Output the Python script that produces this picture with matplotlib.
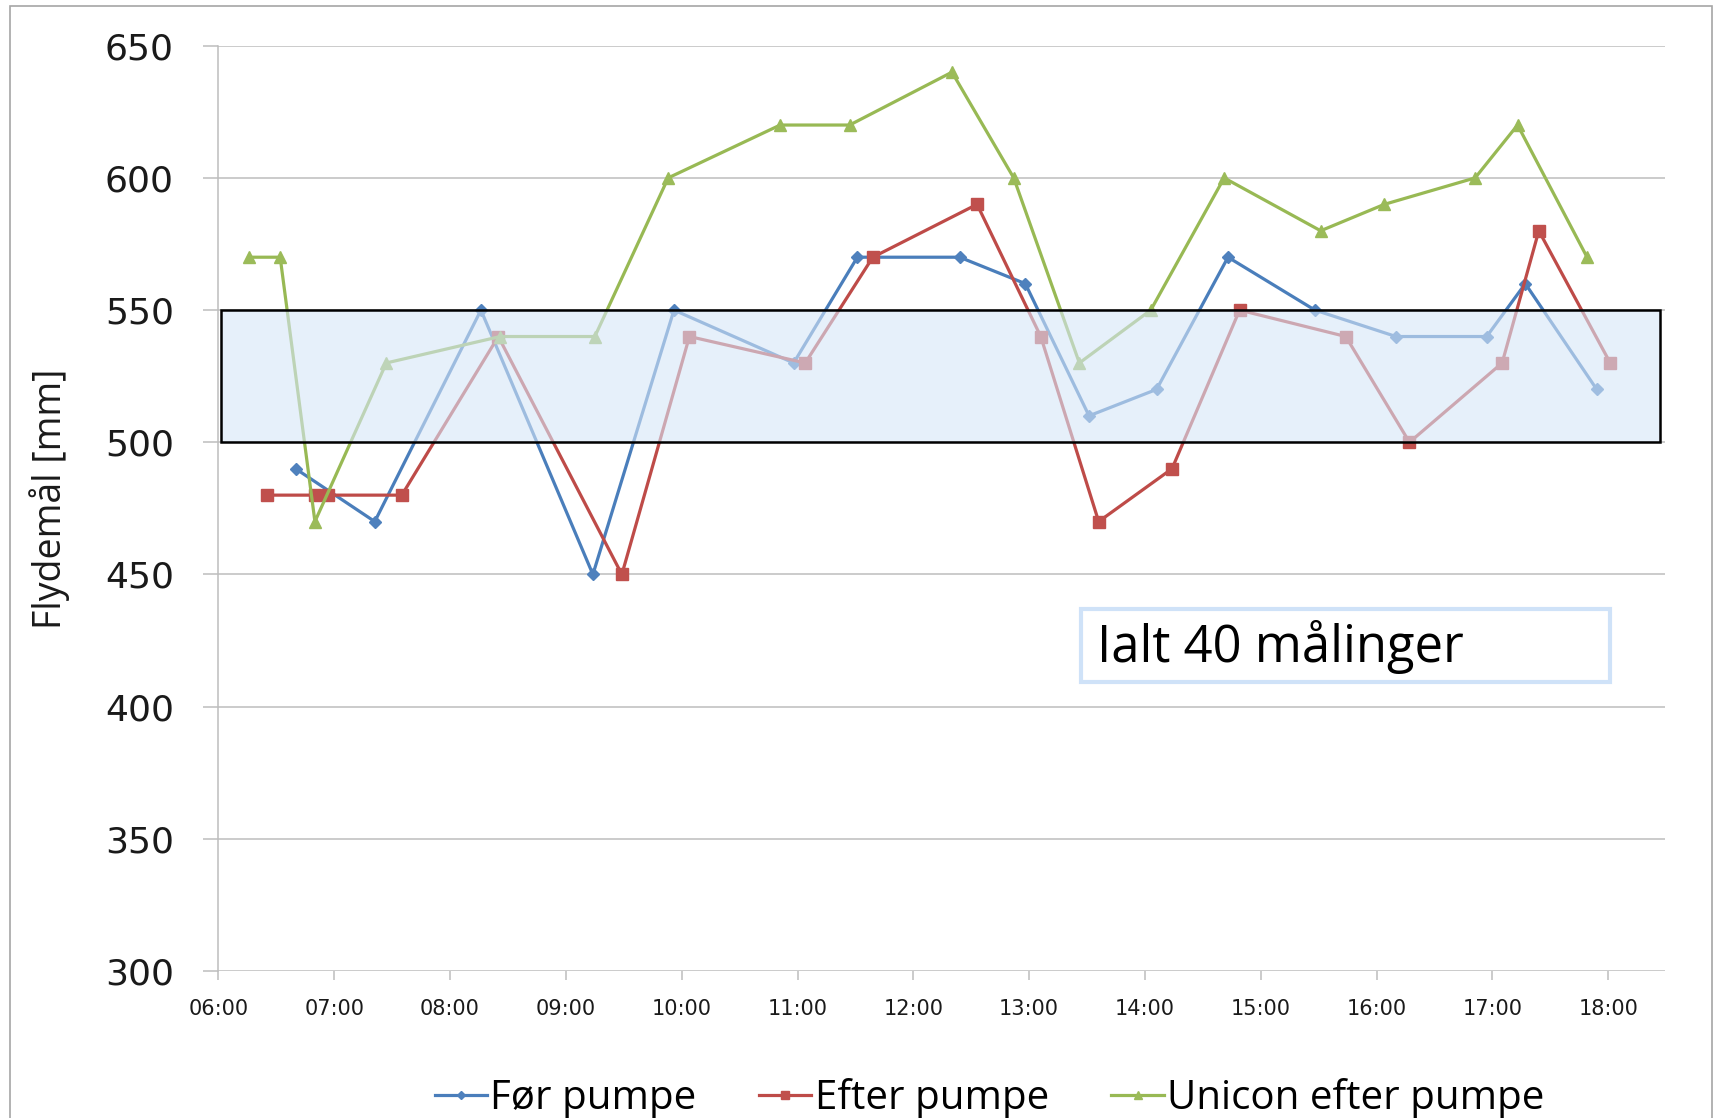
import matplotlib
matplotlib.use("Agg")
import matplotlib.pyplot as plt
from matplotlib.patches import Rectangle
import matplotlib.transforms as mtransforms

# målinger (klokkeslæt, flydemål i mm)
foer_tid = ["06:40", "07:21", "08:16", "09:14", "09:56", "10:58", "11:31", "12:24", "12:58",
            "13:31", "14:06", "14:43", "15:28", "16:10", "16:57", "17:17", "17:54"]
foer_mm = [490, 470, 550, 450, 550, 530, 570, 570, 560, 510, 520, 570, 550, 540, 540, 560, 520]

efter_tid = ["06:25", "06:50", "06:57", "07:35", "08:25", "09:29", "10:04", "11:04", "11:39", "12:33",
             "13:06", "13:36", "14:14", "14:49", "15:44", "16:17", "17:05", "17:24", "18:01"]
efter_mm = [480, 480, 480, 480, 540, 450, 540, 530, 570, 590, 540, 470, 490, 550, 540, 500, 530, 580, 530]

unicon_tid = ["06:16", "06:32", "06:50", "07:27", "08:26", "09:15", "09:53", "10:51", "11:27", "12:20",
              "12:52", "13:26", "14:03", "14:41", "15:31", "16:04", "16:51", "17:13", "17:49"]
unicon_mm = [570, 570, 470, 530, 540, 540, 600, 620, 620, 640, 600, 530, 550, 600, 580, 590, 600, 620, 570]

timer = list(range(6, 19))
y_ticks = [300, 350, 400, 450, 500, 550, 600, 650]
graense = (500, 550)


def til_timer(tider):
    ud = []
    for t in tider:
        h, m = t.split(":")
        ud.append(int(h) + int(m) / 60)
    return ud


fig = plt.figure(figsize=(17.21, 11.18), dpi=100)
ax = fig.add_axes([0.1269, 0.1315, 0.8406, 0.8276])

ax.plot(til_timer(foer_tid), foer_mm, color="#4a7ebb", lw=2.3, marker="D", ms=6.5,
        mfc="#4f81bd", mec="#4f81bd", label="Før pumpe", zorder=3)
ax.plot(til_timer(efter_tid), efter_mm, color="#be4b48", lw=2.3, marker="s", ms=8,
        mfc="#c0504d", mec="#c0504d", label="Efter pumpe", zorder=4)
ax.plot(til_timer(unicon_tid), unicon_mm, color="#98b954", lw=2.3, marker="^", ms=8.5,
        mfc="#9bbb59", mec="#9bbb59", label="Unicon efter pumpe", zorder=5)

# grænseområde 500-550 mm lagt ovenpå kurverne
trans = mtransforms.blended_transform_factory(ax.transAxes, ax.transData)
ax.add_patch(Rectangle((0.0015, graense[0]), 0.9948, graense[1] - graense[0], transform=trans,
                       facecolor="#d6e6f8", alpha=0.6, edgecolor="none", zorder=6))
ax.add_patch(Rectangle((0.0015, graense[0]), 0.9948, graense[1] - graense[0], transform=trans,
                       facecolor="none", edgecolor="black", lw=1.8, zorder=7))

ax.set_xlim(6, 18.49)
ax.set_ylim(300, 650)
ax.set_yticks(y_ticks)
ax.set_xticks(timer)
ax.set_xticklabels(["%02d:00" % h for h in timer])
ax.yaxis.grid(True, color="#bdbdbd", lw=1.1, zorder=0)
ax.set_axisbelow(True)

for s in ["top", "right", "bottom"]:
    ax.spines[s].set_visible(False)
ax.spines["left"].set_color("#bdbdbd")
ax.spines["left"].set_linewidth(1.1)

ax.tick_params(axis="y", length=11, width=1.1, color="#bdbdbd", pad=21, labelsize=26,
               labelcolor="#1a1a1a")
ax.tick_params(axis="x", length=6.5, width=1.1, color="#bdbdbd", pad=14, labelsize=15,
               labelcolor="#1a1a1a")

fig.text(0.0286, 0.554, "Flydemål [mm]", rotation=90, ha="center", va="center",
         fontsize=27, family="Open Sans", color="#1a1a1a")

# tekstboks
fig.patches.append(Rectangle((0.6281, 0.3900), 0.3074, 0.0653, transform=fig.transFigure,
                             facecolor="white", edgecolor="#cfe2f8", lw=3, zorder=10))
fig.text(0.6374, 0.4213, "Ialt 40 målinger", ha="left", va="center", fontsize=36.5,
         family="Open Sans", color="black", zorder=11)

leg = fig.legend(loc="center", bbox_to_anchor=(0.575, 0.017), ncol=3, frameon=False,
                 prop={"family": "Open Sans", "size": 29}, handlelength=1.3,
                 handletextpad=0.08, columnspacing=1.55, markerscale=0.7)

# ramme om hele diagrammet
fig.patches.append(Rectangle((10 / 1721, -0.02), 1702 / 1721, 1.02 - 6 / 1118,
                             transform=fig.transFigure, facecolor="none",
                             edgecolor="#a6a6a6", lw=1.2))

fig.savefig("out.png", dpi=100)
